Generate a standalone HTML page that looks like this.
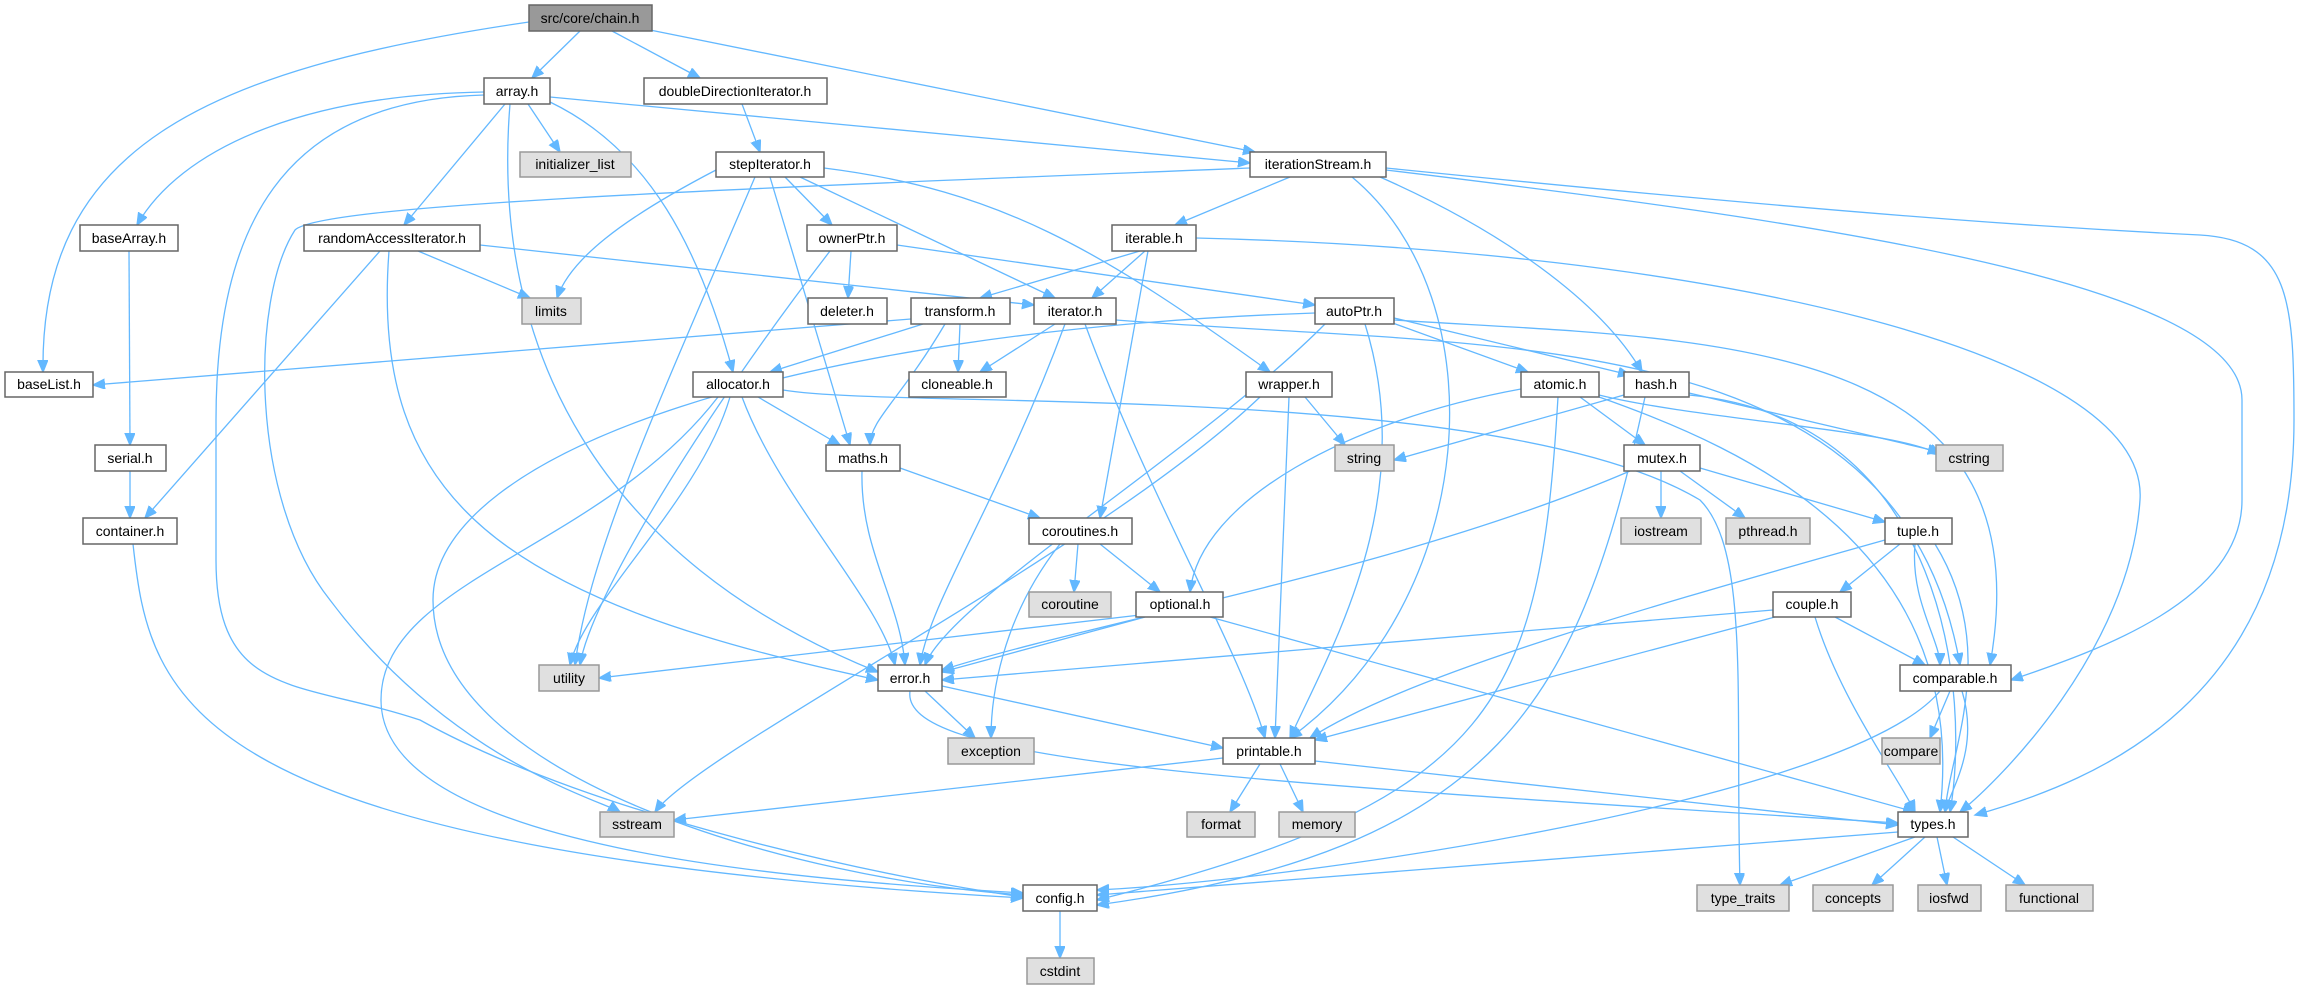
<!DOCTYPE html>
<html><head><meta charset="utf-8"><style>
html,body{margin:0;padding:0;background:#fff;}
svg{display:block}
text{font-family:"Liberation Sans",sans-serif;font-size:14px;fill:#000;text-anchor:middle;dominant-baseline:central}
.n{fill:#fff;stroke:#666;stroke-width:1.5}
.g{fill:#e0e0e0;stroke:#999;stroke-width:1.5}
.r{fill:#999;stroke:#666;stroke-width:1.5}
path{fill:none;stroke:#63b8ff;stroke-width:1.3}
</style></head><body>
<svg width="2299" height="989" viewBox="0 0 2299 989" xmlns="http://www.w3.org/2000/svg">
<defs><marker id="a" markerUnits="userSpaceOnUse" markerWidth="14" markerHeight="12" refX="12" refY="5" orient="auto"><path d="M0,0 L12,5 L0,10 z" style="fill:#63b8ff;stroke:#63b8ff"/></marker></defs>
<g marker-end="url(#a)">
<path d="M580,31 L532,78"/>
<path d="M612,31 L700,78"/>
<path d="M650,30 L1255,152"/>
<path d="M529,22 C200,70 40,150 43,372"/>
<path d="M484,92 C300,95 180,150 137,225"/>
<path d="M505,104 L404,225"/>
<path d="M528,104 L560,152"/>
<path d="M550,102 C650,150 700,250 733,372"/>
<path d="M510,104 C490,350 600,560 878,672"/>
<path d="M484,95 C280,100 216,230 216,420 L216,560 C216,700 300,680 420,720 C600,820 900,880 1023,897"/>
<path d="M550,97 L1250,163"/>
<path d="M742,104 L760,152"/>
<path d="M716,170 C620,220 570,260 557,298"/>
<path d="M785,177 L832,225"/>
<path d="M800,177 L1055,298"/>
<path d="M770,177 L850,445"/>
<path d="M755,177 C660,400 590,550 575,665"/>
<path d="M824,168 C1000,190 1100,250 1270,372"/>
<path d="M1290,177 L1175,225"/>
<path d="M1250,168 C700,190 320,205 295,230 C250,300 250,500 330,600 C450,760 600,800 620,812"/>
<path d="M1352,177 C1500,300 1480,600 1290,738"/>
<path d="M1380,177 C1500,230 1600,300 1642,372"/>
<path d="M1386,170 C1800,220 2242,280 2242,400 L2242,500 C2242,600 2100,650 2011,680"/>
<path d="M1386,168 C1900,220 2100,230 2200,235 C2290,240 2294,300 2294,420 C2294,700 2100,780 1975,815"/>
<path d="M1140,251 L980,298"/>
<path d="M1145,251 L1092,298"/>
<path d="M1148,251 L1100,518"/>
<path d="M1196,238 C1700,250 2150,350 2140,500 C2130,650 2000,780 1960,812"/>
<path d="M418,251 L530,298"/>
<path d="M480,245 L1034,305"/>
<path d="M380,251 L145,518"/>
<path d="M389,251 C370,500 500,600 878,680"/>
<path d="M129,251 L130,445"/>
<path d="M851,251 L848,298"/>
<path d="M897,245 L1315,305"/>
<path d="M830,251 C700,420 590,600 580,665"/>
<path d="M1055,324 L980,372"/>
<path d="M1065,324 C1000,500 930,600 920,665"/>
<path d="M1085,324 C1150,500 1240,650 1265,738"/>
<path d="M1116,320 C1500,350 1900,320 1960,665"/>
<path d="M911,319 L93,385"/>
<path d="M923,324 L770,372"/>
<path d="M960,324 L958,372"/>
<path d="M945,324 C900,400 870,420 870,445"/>
<path d="M1315,313 C800,330 433,450 433,600 C433,780 800,880 1023,895"/>
<path d="M1325,324 C1200,450 950,600 925,665"/>
<path d="M1390,322 L1528,372"/>
<path d="M1394,318 L1630,375"/>
<path d="M1365,324 C1420,500 1330,650 1290,738"/>
<path d="M1394,320 C1700,340 2050,330 1990,665"/>
<path d="M758,397 L840,445"/>
<path d="M730,397 C700,500 585,600 570,665"/>
<path d="M742,397 C780,500 880,600 895,665"/>
<path d="M718,397 C600,550 381,580 381,700 C381,850 800,880 1023,893"/>
<path d="M783,390 C900,410 1500,380 1700,500 C1750,550 1735,700 1740,885"/>
<path d="M1260,397 C1100,550 700,750 655,812"/>
<path d="M1289,397 L1275,738"/>
<path d="M1305,397 L1345,445"/>
<path d="M1521,389 C1350,420 1200,500 1190,592"/>
<path d="M1580,397 L1645,445"/>
<path d="M1558,397 C1540,700 1500,800 1097,900"/>
<path d="M1599,395 C1700,420 1900,430 1940,455"/>
<path d="M1599,397 C1750,450 1970,550 1940,812"/>
<path d="M1624,395 L1394,460"/>
<path d="M1645,397 C1580,700 1500,850 1097,905"/>
<path d="M1689,393 L1940,452"/>
<path d="M1689,395 C1950,420 1970,700 1950,812"/>
<path d="M130,471 L130,518"/>
<path d="M133,544 C150,700 180,850 1023,898"/>
<path d="M862,471 C860,550 900,600 905,665"/>
<path d="M900,468 L1040,518"/>
<path d="M1078,544 L1074,592"/>
<path d="M1100,544 L1160,592"/>
<path d="M1060,544 C1000,620 991,700 991,738"/>
<path d="M1661,471 L1661,518"/>
<path d="M1680,471 L1745,518"/>
<path d="M1700,468 L1885,522"/>
<path d="M1630,471 C1400,570 1100,620 942,670"/>
<path d="M1900,544 L1840,592"/>
<path d="M1915,544 C1910,600 1940,640 1940,665"/>
<path d="M1935,544 C2000,650 1950,750 1945,812"/>
<path d="M1885,540 C1600,620 1400,680 1310,738"/>
<path d="M1773,610 L942,680"/>
<path d="M1775,617 L1315,740"/>
<path d="M1835,617 L1925,665"/>
<path d="M1815,617 C1840,700 1900,780 1915,812"/>
<path d="M1140,615 L599,678"/>
<path d="M1145,617 L942,672"/>
<path d="M1210,617 L1915,812"/>
<path d="M925,691 L975,738"/>
<path d="M942,686 L1223,748"/>
<path d="M910,691 C900,760 1200,780 1898,823"/>
<path d="M1950,691 L1930,738"/>
<path d="M1962,691 C1980,750 1950,790 1945,812"/>
<path d="M1940,691 C1850,800 1300,880 1097,890"/>
<path d="M1223,758 L674,820"/>
<path d="M1260,764 L1230,812"/>
<path d="M1280,764 L1303,812"/>
<path d="M1315,761 L1898,825"/>
<path d="M1915,837 L1780,885"/>
<path d="M1925,837 L1872,885"/>
<path d="M1937,837 L1947,885"/>
<path d="M1953,837 L2025,885"/>
<path d="M1898,832 L1097,895"/>
<path d="M1060,911 L1060,958"/>
</g>
<g>
<rect class="r" x="529" y="5" width="123" height="26"/><text x="590" y="18">src/core/chain.h</text>
<rect class="n" x="484" y="78" width="66" height="26"/><text x="517" y="91">array.h</text>
<rect class="n" x="644" y="78" width="183" height="26"/><text x="735" y="91">doubleDirectionIterator.h</text>
<rect class="g" x="520" y="152" width="111" height="25"/><text x="575" y="164">initializer_list</text>
<rect class="n" x="716" y="152" width="108" height="25"/><text x="770" y="164">stepIterator.h</text>
<rect class="n" x="1250" y="152" width="136" height="25"/><text x="1318" y="164">iterationStream.h</text>
<rect class="n" x="80" y="225" width="98" height="26"/><text x="129" y="238">baseArray.h</text>
<rect class="n" x="304" y="225" width="176" height="26"/><text x="392" y="238">randomAccessIterator.h</text>
<rect class="n" x="807" y="225" width="90" height="26"/><text x="852" y="238">ownerPtr.h</text>
<rect class="n" x="1112" y="225" width="84" height="26"/><text x="1154" y="238">iterable.h</text>
<rect class="g" x="522" y="298" width="59" height="26"/><text x="551" y="311">limits</text>
<rect class="n" x="808" y="298" width="79" height="26"/><text x="847" y="311">deleter.h</text>
<rect class="n" x="911" y="298" width="99" height="26"/><text x="960" y="311">transform.h</text>
<rect class="n" x="1034" y="298" width="82" height="26"/><text x="1075" y="311">iterator.h</text>
<rect class="n" x="1315" y="298" width="79" height="26"/><text x="1354" y="311">autoPtr.h</text>
<rect class="n" x="5" y="372" width="88" height="25"/><text x="49" y="384">baseList.h</text>
<rect class="n" x="693" y="372" width="90" height="25"/><text x="738" y="384">allocator.h</text>
<rect class="n" x="909" y="372" width="97" height="25"/><text x="957" y="384">cloneable.h</text>
<rect class="n" x="1246" y="372" width="86" height="25"/><text x="1289" y="384">wrapper.h</text>
<rect class="n" x="1521" y="372" width="78" height="25"/><text x="1560" y="384">atomic.h</text>
<rect class="n" x="1624" y="372" width="65" height="25"/><text x="1656" y="384">hash.h</text>
<rect class="n" x="95" y="445" width="71" height="26"/><text x="130" y="458">serial.h</text>
<rect class="n" x="826" y="445" width="74" height="26"/><text x="863" y="458">maths.h</text>
<rect class="g" x="1335" y="445" width="59" height="26"/><text x="1364" y="458">string</text>
<rect class="n" x="1624" y="445" width="76" height="26"/><text x="1662" y="458">mutex.h</text>
<rect class="g" x="1936" y="445" width="67" height="26"/><text x="1969" y="458">cstring</text>
<rect class="n" x="83" y="518" width="94" height="26"/><text x="130" y="531">container.h</text>
<rect class="n" x="1029" y="518" width="103" height="26"/><text x="1080" y="531">coroutines.h</text>
<rect class="g" x="1621" y="518" width="80" height="26"/><text x="1661" y="531">iostream</text>
<rect class="g" x="1726" y="518" width="84" height="26"/><text x="1768" y="531">pthread.h</text>
<rect class="n" x="1885" y="518" width="67" height="26"/><text x="1918" y="531">tuple.h</text>
<rect class="g" x="1029" y="592" width="82" height="25"/><text x="1070" y="604">coroutine</text>
<rect class="n" x="1136" y="592" width="87" height="25"/><text x="1180" y="604">optional.h</text>
<rect class="n" x="1773" y="592" width="78" height="25"/><text x="1812" y="604">couple.h</text>
<rect class="g" x="539" y="665" width="60" height="26"/><text x="569" y="678">utility</text>
<rect class="n" x="878" y="665" width="64" height="26"/><text x="910" y="678">error.h</text>
<rect class="n" x="1900" y="665" width="111" height="26"/><text x="1955" y="678">comparable.h</text>
<rect class="g" x="948" y="738" width="86" height="26"/><text x="991" y="751">exception</text>
<rect class="n" x="1223" y="738" width="92" height="26"/><text x="1269" y="751">printable.h</text>
<rect class="g" x="1882" y="738" width="58" height="26"/><text x="1911" y="751">compare</text>
<rect class="g" x="600" y="812" width="74" height="25"/><text x="637" y="824">sstream</text>
<rect class="g" x="1187" y="812" width="68" height="25"/><text x="1221" y="824">format</text>
<rect class="g" x="1279" y="812" width="76" height="25"/><text x="1317" y="824">memory</text>
<rect class="n" x="1898" y="812" width="70" height="25"/><text x="1933" y="824">types.h</text>
<rect class="n" x="1023" y="885" width="74" height="26"/><text x="1060" y="898">config.h</text>
<rect class="g" x="1697" y="885" width="92" height="26"/><text x="1743" y="898">type_traits</text>
<rect class="g" x="1813" y="885" width="80" height="26"/><text x="1853" y="898">concepts</text>
<rect class="g" x="1918" y="885" width="63" height="26"/><text x="1949" y="898">iosfwd</text>
<rect class="g" x="2006" y="885" width="87" height="26"/><text x="2049" y="898">functional</text>
<rect class="g" x="1027" y="958" width="67" height="26"/><text x="1060" y="971">cstdint</text>
</g>
</svg>
</body></html>
